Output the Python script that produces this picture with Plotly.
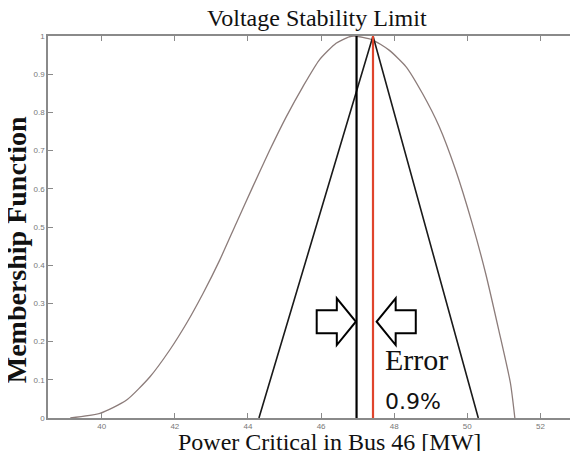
import plotly.graph_objects as go

# ---- data ----
curve_x = [39.14, 39.95, 40.68, 41.32, 41.86, 42.32, 42.77, 43.23, 43.68, 44.13,
           44.59, 45.05, 45.5, 45.95, 46.41, 46.77, 46.9, 47.4, 47.86, 48.32,
           48.77, 49.23, 49.68, 50.13, 50.5, 50.86, 51.18, 51.3]
curve_y = [0.0, 0.012, 0.047, 0.108, 0.178, 0.248, 0.326, 0.414, 0.51, 0.605,
           0.70, 0.789, 0.867, 0.937, 0.981, 0.998, 1.0, 0.99, 0.963, 0.92,
           0.85, 0.763, 0.649, 0.51, 0.379, 0.23, 0.091, 0.0]

tri_x = [44.3, 47.42, 50.3]
tri_y = [0.0, 1.0, 0.0]

black_line_x = 46.97
red_line_x = 47.42
line_y = [0.0, 1.0]

x_ticks = [40, 42, 44, 46, 48, 50, 52]
y_ticks = [0, 0.1, 0.2, 0.3, 0.4, 0.5, 0.6, 0.7, 0.8, 0.9, 1]
y_tick_text = ["0", "0.1", "0.2", "0.3", "0.4", "0.5", "0.6", "0.7", "0.8", "0.9", "1"]

title_text = "Voltage Stability Limit"
x_title = "Power Critical in Bus 46 [MW]"
y_title = "Membership Function"
error_label = "Error"
error_value = "0.9%"

fig = go.Figure()
fig.add_trace(go.Scatter(x=curve_x, y=curve_y, mode="lines",
                         line=dict(color="#8c7c7a", width=1.3, shape="spline", smoothing=0.6),
                         hoverinfo="skip"))
fig.add_trace(go.Scatter(x=tri_x, y=tri_y, mode="lines",
                         line=dict(color="#1a1a1a", width=1.6), hoverinfo="skip"))
fig.add_trace(go.Scatter(x=[black_line_x, black_line_x], y=line_y, mode="lines",
                         line=dict(color="#000000", width=2.2), hoverinfo="skip"))
fig.add_trace(go.Scatter(x=[red_line_x, red_line_x], y=line_y, mode="lines",
                         line=dict(color="#e0442c", width=2.2), hoverinfo="skip"))

# hollow block arrows pointing at the two lines
ay = 0.252
head_len, total_len = 0.52, 1.07
head_h, shaft_h = 0.061, 0.03


def arrow_path(tip_x, direction):
    d = direction
    pts = [
        (tip_x, ay),
        (tip_x - d * head_len, ay + head_h),
        (tip_x - d * head_len, ay + shaft_h),
        (tip_x - d * total_len, ay + shaft_h),
        (tip_x - d * total_len, ay - shaft_h),
        (tip_x - d * head_len, ay - shaft_h),
        (tip_x - d * head_len, ay - head_h),
    ]
    return "M " + " L ".join(f"{px},{py}" for px, py in pts) + " Z"


fig.add_shape(type="path", path=arrow_path(black_line_x - 0.02, 1), xref="x", yref="y",
              line=dict(color="#000000", width=2), fillcolor="rgba(255,255,255,0)")
fig.add_shape(type="path", path=arrow_path(red_line_x + 0.1, -1), xref="x", yref="y",
              line=dict(color="#000000", width=2), fillcolor="rgba(255,255,255,0)")

fig.add_annotation(x=red_line_x + 0.27, y=0.154, xref="x", yref="y", text=error_label,
                   showarrow=False, xanchor="left", yanchor="middle",
                   font=dict(family="Liberation Serif", size=30, color="#111"))
fig.add_annotation(x=red_line_x + 0.27, y=0.042, xref="x", yref="y", text=error_value,
                   showarrow=False, xanchor="left", yanchor="middle",
                   font=dict(family="DejaVu Sans", size=22, color="#111"))

fig.add_annotation(x=0.5085, y=1.047, xref="paper", yref="paper", text=title_text,
                   showarrow=False, xanchor="center", yanchor="middle",
                   font=dict(family="Liberation Serif", size=24, color="#111"))
fig.add_annotation(x=0.533, y=-0.063, xref="paper", yref="paper", text=x_title,
                   showarrow=False, xanchor="center", yanchor="middle",
                   font=dict(family="Liberation Serif", size=24, color="#111"))
fig.add_annotation(x=-0.058, y=0.44, xref="paper", yref="paper", text="<b>" + y_title + "</b>",
                   showarrow=False, xanchor="center", yanchor="middle", textangle=-90,
                   font=dict(family="Liberation Serif", size=28, color="#111"))

axis_common = dict(showgrid=False, zeroline=False, showline=True, linecolor="#8a8a8a",
                   linewidth=1.5, mirror="ticks", ticks="inside", ticklen=5,
                   tickcolor="#8a8a8a", tickwidth=1, automargin=False,
                   tickfont=dict(family="Liberation Sans", size=8, color="#777"))

fig.update_xaxes(range=[38.53, 53.0], tickvals=x_ticks,
                 ticktext=[str(v) for v in x_ticks], **axis_common)
fig.update_yaxes(range=[0, 1], tickvals=y_ticks, ticktext=y_tick_text, **axis_common)

# the page body adds an 8px offset, so the figure is 8px smaller than the window
fig.update_layout(width=570, height=443, showlegend=False,
                  margin=dict(l=40, r=1, t=28, b=33),
                  paper_bgcolor="white", plot_bgcolor="white")

fig.write_html("out.html")
